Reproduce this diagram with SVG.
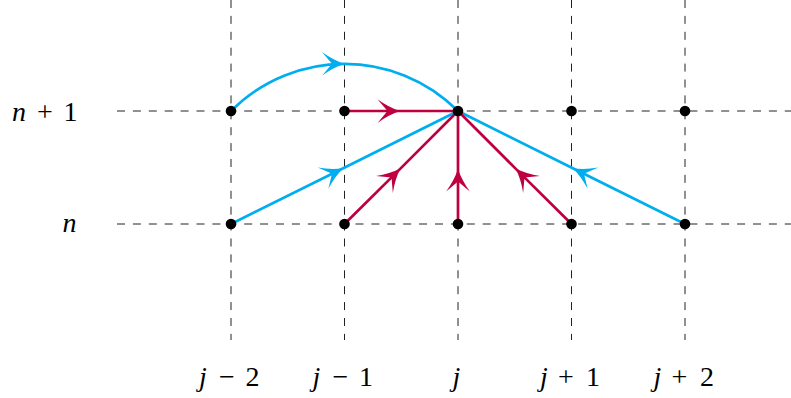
<svg xmlns="http://www.w3.org/2000/svg" width="791" height="398" viewBox="0 0 791 398">
<style>
.grid{stroke:#222;stroke-width:1;stroke-dasharray:8 7.9;fill:none}
.red{stroke:#BF0040;stroke-width:2.7;fill:none;marker-mid:url(#ar)}
.blue{stroke:#00AEEF;stroke-width:2.7;fill:none;marker-mid:url(#ab)}
.dot{fill:#000}
.it{font-style:italic}
.lbl{font-family:"Liberation Serif","DejaVu Serif",serif;font-size:28px;fill:#000;text-anchor:middle}
</style>
<defs>
<marker id="ar" markerUnits="userSpaceOnUse" orient="auto" refX="0" refY="0" markerWidth="30" markerHeight="30" viewBox="-20 -12 24 24" overflow="visible">
<path d="M0,0 Q-9,-3 -18,-9.5 L-10,0 L-18,9.5 Q-9,3 0,0 Z" fill="#BF0040"/>
</marker>
<marker id="ab" markerUnits="userSpaceOnUse" orient="auto" refX="0" refY="0" markerWidth="30" markerHeight="30" viewBox="-20 -12 24 24" overflow="visible">
<path d="M0,0 Q-9,-3 -18,-9.5 L-10,0 L-18,9.5 Q-9,3 0,0 Z" fill="#00AEEF"/>
</marker>
</defs>
<g id="grid">
<line class="grid" x1="231" y1="0" x2="231" y2="340"/>
<line class="grid" x1="344.5" y1="0" x2="344.5" y2="340"/>
<line class="grid" x1="458" y1="0" x2="458" y2="340"/>
<line class="grid" x1="571.5" y1="0" x2="571.5" y2="340"/>
<line class="grid" x1="685" y1="0" x2="685" y2="340"/>
<line class="grid" x1="117" y1="111" x2="791" y2="111"/>
<line class="grid" x1="117" y1="224" x2="791" y2="224"/>
</g>
<g id="connectors">
<path class="blue" d="M231,111 C262.42,79.58 303.46,63.87 344.5,63.87 C385.54,63.87 426.58,79.58 458,111"/>
<path class="blue" d="M231,224 L343.2,168.2 L458,111"/>
<path class="blue" d="M685,224 L572.8,168.2 L458,111"/>
<path class="red" d="M344.5,111 L400,111 L458,111"/>
<path class="red" d="M344.5,224 L400.4,168.6 L458,111"/>
<path class="red" d="M458,224 L458,169 L458,111"/>
<path class="red" d="M571.5,224 L515.6,168.6 L458,111"/>
</g>
<g id="nodes">
<circle id="n-jm2-n1" class="dot" cx="231" cy="111" r="5.3"/>
<circle id="n-jm1-n1" class="dot" cx="344.5" cy="111" r="5.3"/>
<circle id="n-j-n1" class="dot" cx="458" cy="111" r="5.3"/>
<circle id="n-jp1-n1" class="dot" cx="571.5" cy="111" r="5.3"/>
<circle id="n-jp2-n1" class="dot" cx="685" cy="111" r="5.3"/>
<circle id="n-jm2-n" class="dot" cx="231" cy="224" r="5.3"/>
<circle id="n-jm1-n" class="dot" cx="344.5" cy="224" r="5.3"/>
<circle id="n-j-n" class="dot" cx="458" cy="224" r="5.3"/>
<circle id="n-jp1-n" class="dot" cx="571.5" cy="224" r="5.3"/>
<circle id="n-jp2-n" class="dot" cx="685" cy="224" r="5.3"/>
</g>
<g id="labels">
<text class="lbl" y="121"><tspan class="it" x="19">n</tspan><tspan x="45">+</tspan><tspan x="70.5">1</tspan></text>
<text class="lbl" y="232"><tspan class="it" x="69.5">n</tspan></text>
<text class="lbl" y="386"><tspan class="it" x="203">j</tspan><tspan x="227">−</tspan><tspan x="252.5">2</tspan></text>
<text class="lbl" y="386"><tspan class="it" x="316.5">j</tspan><tspan x="340.5">−</tspan><tspan x="366">1</tspan></text>
<text class="lbl" y="386"><tspan class="it" x="456.5">j</tspan></text>
<text class="lbl" y="386"><tspan class="it" x="544">j</tspan><tspan x="566">+</tspan><tspan x="593">1</tspan></text>
<text class="lbl" y="386"><tspan class="it" x="657.5">j</tspan><tspan x="679.5">+</tspan><tspan x="707">2</tspan></text>
</g>
</svg>
